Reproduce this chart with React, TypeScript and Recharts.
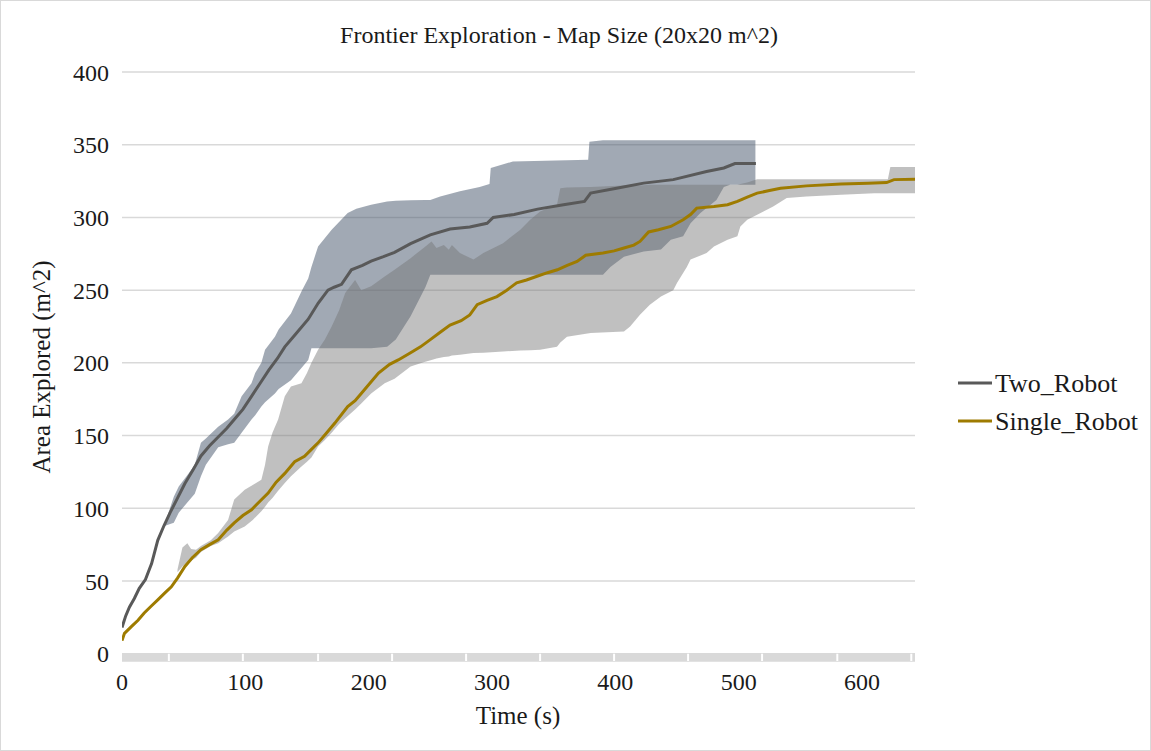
import React from 'react';
import {
  ComposedChart,
  Area,
  Line,
  XAxis,
  YAxis,
  CartesianGrid,
  ReferenceArea,
  ReferenceLine,
} from 'recharts';

const FONT = '"Liberation Serif", "Times New Roman", serif';
const INK = '#1a1a1a';

// axis ticks
const timeTicks = [0, 100, 200, 300, 400, 500, 600];
const areaTicks = [0, 50, 100, 150, 200, 250, 300, 350, 400];
// white notches in the grey strip under the plot
const stripNotches = [38, 98, 159, 219, 279, 339, 399, 459, 519, 580, 640];

// Two_Robot mean
const twoTime = [0, 3, 6, 10, 14, 19, 24, 29, 34, 39, 45, 51, 58, 64, 71, 78, 85, 91, 98, 105, 112, 119, 126, 132, 140, 151, 159, 167, 172, 178, 186, 195, 202, 212, 221, 234, 250, 266, 282, 296, 301, 318, 337, 358, 375, 380, 401, 423, 447, 474, 488, 497, 514];
const twoMean = [18, 26, 32, 38, 45, 51, 62, 78, 88, 97, 107, 117, 127, 136, 143, 149, 155, 161, 168, 177, 186, 195, 203, 211, 219, 230, 241, 250, 252, 254, 264, 267, 270, 273, 276, 282, 288, 292, 293.4, 296, 300, 302, 305.7, 308.7, 311, 316.7, 320, 323.6, 326, 331.6, 334, 337, 337];

// Two_Robot min / max band
const twoBandTime = [35, 42, 46, 54, 59, 64, 68, 78, 86, 91, 97, 105, 108, 113, 116, 124, 127, 137, 146, 151, 153.6, 159, 170, 183, 190, 202, 215, 222, 234, 246, 250, 258, 274, 290, 298, 299, 317, 378, 379, 390, 396, 407, 423, 437, 445, 455, 461, 469, 482, 488, 493, 513.6];
const twoLow = [88, 90, 97, 105, 110, 122, 130, 142, 144, 145, 152, 161, 164, 170, 173, 179, 182, 188, 197, 202, 210, 210, 210, 210, 210, 210, 211, 216, 232, 252, 260.6, 260.6, 260.6, 260.6, 260.6, 260.6, 260.6, 260.6, 260.6, 260.6, 266, 273, 276.6, 278, 284.6, 287, 296, 303, 312, 321, 322.4, 322.4];
const twoHigh = [90, 108, 115, 124, 130, 145, 148, 156, 161, 165, 177, 186, 193, 200, 209, 218, 223, 234, 250, 258, 266, 280, 291.5, 303, 306, 308.7, 311, 311.5, 311.8, 312, 312, 314.4, 318, 321, 323, 334, 338.5, 339.6, 352, 353, 353, 353, 353, 353, 353, 353, 353, 353, 353, 353, 353, 353];

// Single_Robot mean
const singleTime = [0, 2, 8, 13, 18, 24, 29, 35, 40, 45, 51, 57, 64, 71, 78, 85, 91, 98, 105, 112, 118.5, 125, 132, 140, 148, 153, 159, 166, 172.6, 183, 189, 194, 201, 208, 217, 224, 234, 242, 250, 258, 266, 275, 282, 288, 296, 304, 312, 320, 328, 336, 345, 353, 361, 369, 376, 390, 399, 407, 415, 420, 427, 435, 445, 455, 461, 466, 480, 491, 499, 507, 515, 525, 534, 555, 583, 605, 620, 626, 643];
const singleMean = [9, 14, 19, 23, 28, 33, 37, 42, 46, 52, 60, 66, 71.5, 75, 78.4, 85, 90, 95, 99, 105, 110.5, 118, 124, 132, 135.7, 140, 145, 152, 158.6, 170, 174, 179, 186, 193, 199, 202, 207, 211, 216, 221, 226, 229, 233, 240, 243, 245.6, 250, 255, 257, 259.4, 262, 264, 267, 269.7, 274, 275.5, 277, 279, 281, 283.5, 290, 291.5, 293.8, 298.4, 302, 306.4, 307.5, 308.7, 311, 314, 316.7, 318.5, 320, 321.7, 323, 323.5, 324, 326, 326.3];

// Single_Robot min / max band
const singleBandTime = [45, 49, 53, 56, 60, 64, 72, 78, 86, 91, 99.5, 106, 113, 116, 118.5, 122, 126.6, 132, 137, 145.5, 150, 153.6, 159, 164.5, 170, 176, 181, 189, 194, 202, 213, 221, 234, 244.5, 251, 255, 261, 265, 267.5, 274, 285, 293, 309, 323, 331, 339, 352.7, 355.4, 360.8, 380, 407, 412, 420, 428, 437, 447, 450, 458, 461, 474, 480, 491, 499, 501.4, 507, 515, 528, 539, 555, 583, 610, 621, 623, 643];
const singleLow = [56, 60, 63, 64, 66, 70, 74, 76, 80.6, 84, 87.5, 92, 98, 101, 104, 107, 112, 117.4, 122, 128.8, 132, 135, 142.5, 147, 152, 158, 162, 168, 172, 179, 186, 189, 197.5, 200.5, 202, 203, 204, 204.4, 205, 205.5, 206.7, 207, 207.8, 208.5, 208.7, 209, 211, 214, 218, 220.5, 221.6, 225, 233, 240, 245.6, 250, 255, 266, 271, 275.5, 280, 284.6, 287, 293.8, 298.4, 301.8, 307.5, 313.3, 314.4, 315.6, 316.7, 316.7, 316.7, 316.7];
const singleHigh = [58, 73, 76, 72, 71.5, 74, 78, 83, 92, 106, 112.8, 116, 119.6, 130, 142.5, 152, 161, 177, 183.8, 186, 193, 200, 209, 216, 225, 236, 248, 257, 250, 252.6, 259.4, 264, 272, 279, 283.5, 279, 281, 277.7, 281, 275.5, 271, 275.5, 282.3, 291.5, 298.4, 304, 308.7, 320, 320.5, 321, 322, 322, 322, 322.4, 322.4, 322.4, 322.4, 322.4, 322.4, 322.4, 322.4, 322.4, 322.4, 323, 324, 326.3, 326.3, 326.3, 326.3, 326.3, 326.3, 326.3, 334.6, 334.6];

const series = [
  { name: 'Two_Robot', color: '#595959' },
  { name: 'Single_Robot', color: '#9e7b00' },
];

const App: React.FC = () => {
  const twoLine = twoTime.map((t, i) => ({ t, v: twoMean[i] }));
  const twoBand = twoBandTime.map((t, i) => ({ t, range: [twoLow[i], twoHigh[i]] }));
  const singleLine = singleTime.map((t, i) => ({ t, v: singleMean[i] }));
  const singleBand = singleBandTime.map((t, i) => ({ t, range: [singleLow[i], singleHigh[i]] }));

  const tickStyle = { fill: INK, fontSize: 24, fontFamily: FONT };

  return (
    <div
      style={{
        position: 'absolute',
        left: 0,
        top: 0,
        width: 1151,
        height: 751,
        background: '#fff',
        fontFamily: FONT,
      }}
    >
      <ComposedChart
        width={1151}
        height={751}
        margin={{ top: 72, right: 236, bottom: 0, left: 0 }}
        style={{ position: 'absolute', left: 0, top: 0, fontFamily: FONT }}
      >
        <CartesianGrid vertical={false} stroke="#d9d9d9" strokeWidth={1.5} />
        <XAxis
          dataKey="t"
          type="number"
          domain={[0, 643]}
          ticks={timeTicks}
          allowDataOverflow
          axisLine={false}
          tickLine={false}
          tickSize={0}
          tickMargin={12}
          height={90}
          tick={tickStyle}
        />
        <YAxis
          type="number"
          domain={[-5, 400]}
          ticks={areaTicks}
          allowDataOverflow
          axisLine={false}
          tickLine={false}
          tickSize={0}
          tickMargin={13}
          width={122}
          tick={tickStyle}
        />
        <ReferenceArea y1={-5} y2={0} fill="#d9d9d9" fillOpacity={1} stroke="none" />
        {stripNotches.map((t) => (
          <ReferenceLine
            key={t}
            segment={[{ x: t, y: -5 }, { x: t, y: 0 }]}
            stroke="#fff"
            strokeWidth={2}
          />
        ))}
        <Area
          data={twoBand}
          dataKey="range"
          type="linear"
          stroke="none"
          fill="#44546a"
          fillOpacity={0.5}
          isAnimationActive={false}
          legendType="none"
        />
        <Area
          data={singleBand}
          dataKey="range"
          type="linear"
          stroke="none"
          fill="#747474"
          fillOpacity={0.45}
          isAnimationActive={false}
          legendType="none"
        />
        <Line
          data={twoLine}
          dataKey="v"
          name="Two_Robot"
          type="linear"
          stroke={series[0].color}
          strokeWidth={3}
          dot={false}
          isAnimationActive={false}
        />
        <Line
          data={singleLine}
          dataKey="v"
          name="Single_Robot"
          type="linear"
          stroke={series[1].color}
          strokeWidth={3}
          dot={false}
          isAnimationActive={false}
        />
      </ComposedChart>

      {/* title, axis titles and legend */}
      <svg
        width={1151}
        height={751}
        style={{ position: 'absolute', left: 0, top: 0, pointerEvents: 'none' }}
        fontFamily={FONT}
        fill={INK}
      >
        <text x={559} y={43} textAnchor="middle" fontSize={24}>
          Frontier Exploration - Map Size (20x20 m^2)
        </text>
        <text x={518} y={724} textAnchor="middle" fontSize={25}>
          Time (s)
        </text>
        <text transform="translate(50,367) rotate(-90)" textAnchor="middle" fontSize={25}>
          Area Explored (m^2)
        </text>
        {series.map((s, i) => (
          <g key={s.name}>
            <line x1={958} x2={992} y1={383 + i * 38} y2={383 + i * 38} stroke={s.color} strokeWidth={3} />
            <text x={995} y={392 + i * 38} fontSize={26}>
              {s.name}
            </text>
          </g>
        ))}
      </svg>
      <div
        style={{
          position: 'absolute',
          left: 0,
          top: 0,
          width: 1151,
          height: 751,
          boxSizing: 'border-box',
          border: '1px solid #d9d9d9',
          pointerEvents: 'none',
        }}
      />
    </div>
  );
};

export default App;
